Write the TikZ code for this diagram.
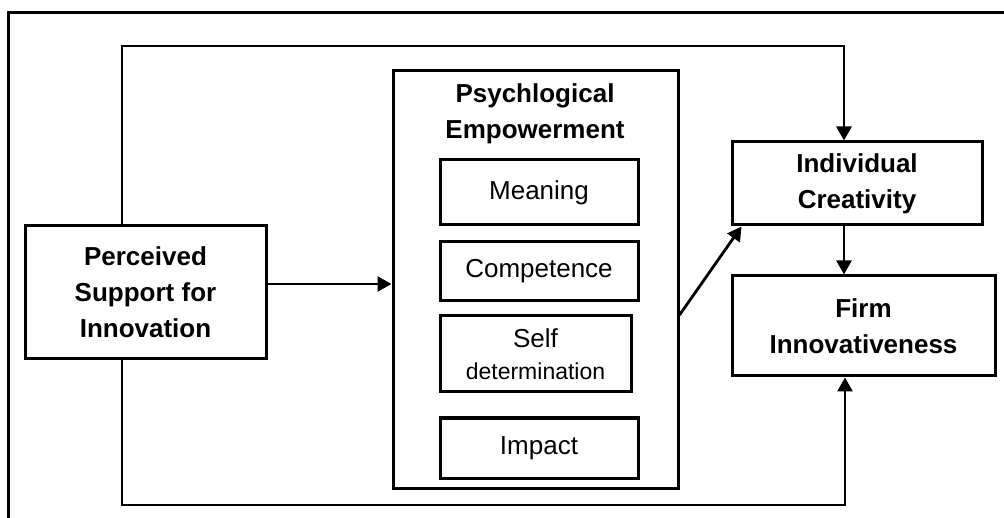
\documentclass[tikz,border=0pt]{standalone}
\usepackage{fontspec}
\setmainfont{Liberation Sans}
\usetikzlibrary{arrows.meta}
\begin{document}
\begin{tikzpicture}[x=1pt,y=-1pt,line width=3pt,
  box/.style={draw,rectangle,inner sep=0pt,align=center},
  boldtxt/.style={font=\fontsize{26}{36}\selectfont\bfseries},
  plaintxt/.style={font=\fontsize{26}{36}\selectfont},
  arr/.style={-{Triangle[length=14pt,width=15pt]},line width=2.8pt}]
\useasboundingbox (0,0) rectangle (1004,518);
\clip (0,0) rectangle (1004,518);
\draw (8,13) rectangle (1030,540);

\node[box,boldtxt,minimum width=241pt,minimum height=133pt] (per) at (145.5,292.5) {Perceived\\Support for\\Innovation};
\node[box,minimum width=285pt,minimum height=417pt] (psy) at (535.5,279.5) {};
\node[boldtxt,align=center] (pt) at (535,114) {Psychlogical\\Empowerment};
\node[box,plaintxt,minimum width=198pt,minimum height=65pt] (mea) at (539,192.5) {Meaning};
\node[box,plaintxt,minimum width=198pt,minimum height=59pt] (com) at (539,271.5) {Competence};
\node[box,font=\fontsize{26}{32}\selectfont,minimum width=191pt,minimum height=76pt] (sel) at (535.5,354) {Self\\{\fontsize{23}{32}\selectfont determination}};
\node[box,plaintxt,minimum width=198pt,minimum height=60pt] (imp) at (539,448) {Impact};
\node[box,boldtxt,minimum width=250pt,minimum height=83pt] (ic) at (857,183.5) {Individual\\Creativity};
\node[box,boldtxt,minimum width=263pt,minimum height=100pt] (firm) at (863.5,326) {Firm\\Innovativeness};

% arrow: perceived -> psychological empowerment
\coordinate (pa) at ([yshift=8.5pt]per.east);
\draw[arr] (pa) -- (pa -| psy.west);

% top path: perceived -> individual creativity
\coordinate (t1) at ([xshift=-23.5pt]per.north);
\coordinate (topy) at (0,46);
\coordinate (t2) at ([xshift=-13pt]ic.north);
\draw[arr] (t1) -- (t1 |- topy) -| (t2);

% bottom path: perceived -> firm innovativeness
\coordinate (b1) at ([xshift=-23.5pt]per.south);
\coordinate (boty) at (0,505);
\coordinate (b2) at ([xshift=-18.5pt]firm.south);
\draw[arr] (b1) -- (b1 |- boty) -| (b2);

% individual creativity -> firm innovativeness
\coordinate (c1) at ([xshift=-13pt]ic.south);
\draw[arr] (c1) -- (c1 |- firm.north);

% psychological empowerment -> individual creativity
\coordinate (d1) at ([yshift=-35.5pt]psy.east);
\coordinate (d2) at ([xshift=11pt]ic.south west);
\draw[arr] (d1) -- (d2);
\end{tikzpicture}
\end{document}
